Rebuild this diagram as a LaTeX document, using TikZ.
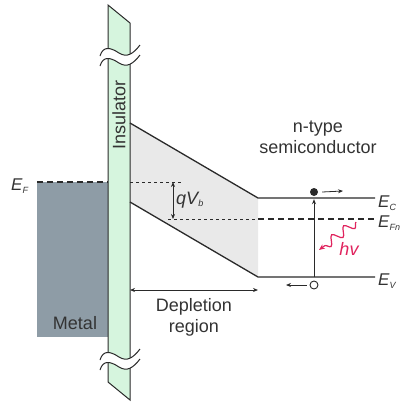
\documentclass[tikz,border=0pt]{standalone}
\usepackage{fontspec}
\setmainfont{Liberation Sans}
\usetikzlibrary{arrows.meta,decorations.pathmorphing}
\definecolor{insgreen}{HTML}{D6F5DE}
\definecolor{metalgray}{HTML}{8E9CA6}
\definecolor{deplgray}{HTML}{E9E9E9}
\definecolor{linec}{HTML}{2A2A2A}
\definecolor{textc}{HTML}{333333}
\definecolor{photon}{HTML}{E0245E}
\tikzset{
  band/.style={draw=linec, line width=1.3bp},
  thindash/.style={draw=linec, line width=0.8bp, dash pattern=on 3bp off 3bp},
  thickdash/.style={draw=linec, line width=1.6bp, dash pattern=on 6bp off 4bp},
  smallarrow/.style={draw=linec, line width=0.8bp, -{Stealth[length=5bp,width=4bp]}},
  dblarrow/.style={draw=linec, line width=0.8bp, {Stealth[length=5bp,width=4bp]}-{Stealth[length=5bp,width=4bp]}},
  lbl/.style={text=textc, font=\fontsize{18bp}{21bp}\selectfont, inner sep=0pt},
  elbl/.style={text=textc, font=\fontsize{17bp}{19bp}\selectfont\itshape, inner sep=0pt, anchor=west},
  wavec/.style={draw=linec, line width=1bp},
}
\newcommand\sbs[1]{\textsubscript{\fontsize{9bp}{10bp}\selectfont #1}}
\begin{document}
\begin{tikzpicture}[x=1bp,y=-1bp]
\useasboundingbox (0,0) rectangle (411,411);
% metal
\fill[metalgray] (37,182) rectangle (108,337);
\node[lbl] (metal) at (75,323) {Metal};
% depletion fill
\fill[deplgray] (130,123) -- (258,198) -- (258,277) -- (130,202) -- cycle;
% insulator strip
\filldraw[fill=insgreen, draw=linec, line width=1bp] (108,5) -- (130,23) -- (130,400) -- (108,382) -- cycle;
% breaks
\foreach \s in {0,304}{
  \fill[white, shift={(0,\s)}] (100,56) .. controls (103,46) and (110,47) .. (119,53) .. controls (127,58) and (133,54) .. (140,45)
     -- (140,55) .. controls (133,64) and (127,68) .. (119,63) .. controls (110,57) and (103,56) .. (100,66) -- cycle;
  \draw[wavec, shift={(0,\s)}] (100,56) .. controls (103,46) and (110,47) .. (119,53) .. controls (127,58) and (133,54) .. (140,45);
  \draw[wavec, shift={(0,\s)}] (100,66) .. controls (103,56) and (110,57) .. (119,63) .. controls (127,68) and (133,64) .. (140,55);
}
\node[lbl, rotate=90] (ins) at (119,115) {Insulator};
% Fermi level in metal
\coordinate (efl) at (37,182);
\coordinate (efr) at (108,182);
\draw[thickdash] (efl) -- (efr);
\node[elbl] (EF) at (11,186) {E\sbs{F}};
\coordinate (qa) at (130,182);
\coordinate (qb) at (183,182);
\draw[thindash] (qa) -- (qb);
% bands
\coordinate (c0) at (130,123);
\coordinate (c1) at (258,198);
\coordinate (c2) at (375,198);
\coordinate (v0) at (130,202);
\coordinate (v1) at (258,277);
\coordinate (v2) at (375,277);
\draw[band] (c0) -- (c1) -- (c2);
\draw[band] (v0) -- (v1) -- (v2);
% E_Fn
\coordinate (f0) at (168,219);
\coordinate (f1) at (258,219);
\coordinate (f2) at (375,219);
\draw[thindash] (f0) -- (f1);
\draw[thickdash] (f1) -- (f2);
\node[elbl] (EC) at (378,203) {E\sbs{C}};
\node[elbl] (EFn) at (378,223) {E\sbs{Fn}};
\node[elbl] (EV) at (378,281) {E\sbs{V}};
% qVb
\coordinate (qt) at (173,182);
\coordinate (qbt) at (173,219);
\draw[dblarrow] (qt) -- (qbt);
\node[lbl, font=\fontsize{18bp}{21bp}\selectfont\itshape] (qvb) at (190,200) {qV\sbs{b}};
% depletion region arrow
\coordinate (d0) at (130,290);
\coordinate (d1) at (258,290);
\draw[dblarrow] (d0) -- (d1);
\node[lbl, align=center] (depl) at (194,317) {Depletion\\region};
\node[lbl, align=center] (nsemi) at (318,137) {n-type\\semiconductor};
% electron / hole
\node[circle, fill=linec, inner sep=0pt, minimum size=8bp] (el) at (314,192) {};
\node[circle, draw=linec, fill=white, line width=0.9bp, inner sep=0pt, minimum size=8bp] (ho) at (314,285) {};
\coordinate (ela) at (343,191);
\coordinate (hoa) at (286,285);
\draw[smallarrow] ([xshift=4bp]el.east) -- (ela);
\draw[smallarrow] ([xshift=-3bp]ho.west) -- (hoa);
\coordinate (exb) at (314,277);
\draw[smallarrow] (exb) -- ([yshift=-3bp]el.south);
% photon
\coordinate (ph0) at (356,222);
\coordinate (ph1) at (319,250);
\draw[photon, line width=1.2bp, -{Stealth[length=6bp,width=5bp]},
  decorate, decoration={snake, amplitude=4.5bp, segment length=15bp, post length=5bp}] (ph0) -- (ph1);
\node[lbl, text=photon, font=\fontsize{18bp}{21bp}\selectfont\itshape] (hv) at (349,249) {hv};
\end{tikzpicture}
\end{document}
